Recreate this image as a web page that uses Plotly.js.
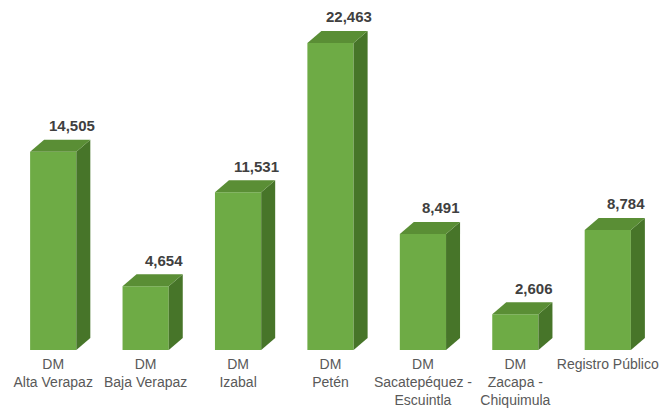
<!DOCTYPE html>
<html>
<head>
<meta charset="utf-8">
<script src="https://cdn.plot.ly/plotly-3.0.1.min.js"></script>
<style>html,body{margin:0;padding:0;background:#fff;}#chart{width:663px;height:409px;}</style>
</head>
<body>
<div id="chart"></div>
<script>
const categories = [
  "DM<br>Alta Verapaz",
  "DM<br>Baja Verapaz",
  "DM<br>Izabal",
  "DM<br>Petén",
  "DM<br>Sacatepéquez -<br>Escuintla",
  "DM<br>Zacapa -<br>Chiquimula",
  "Registro Público"
];
const values = [14505, 4654, 11531, 22463, 8491, 2606, 8784];
const valueLabels = ["14,505", "4,654", "11,531", "22,463", "8,491", "2,606", "8,784"];

const W = 663, H = 409;
const margin = {l: 7, r: 9, t: 0, b: 59};
const yMax = 25600;
const barWidth = 0.5;
const depthPx = 14, risePx = 12;

const positions = categories.map((c, i) => i);
const plotW = W - margin.l - margin.r;
const plotH = H - margin.t - margin.b;
const xUnitPx = plotW / 7;
const dx = depthPx / xUnitPx;
const dy = risePx * yMax / plotH;

const frontColor = '#6EAB45';
const topColor = '#5A8E35';
const sideColor = '#477529';

const traces = [];
positions.forEach((p, i) => {
  const v = values[i];
  const xr = p + barWidth / 2;
  const xl = p - barWidth / 2;
  traces.push({
    type: 'scatter', mode: 'lines', fill: 'toself',
    x: [xr, xr + dx, xr + dx, xr, xr],
    y: [0, dy, v + dy, v, 0],
    fillcolor: sideColor, line: {width: 0, color: sideColor},
    hoverinfo: 'skip', showlegend: false
  });
  traces.push({
    type: 'scatter', mode: 'lines', fill: 'toself',
    x: [xl, xl + dx, xr + dx, xr, xl],
    y: [v, v + dy, v + dy, v, v],
    fillcolor: topColor, line: {width: 0, color: topColor},
    hoverinfo: 'skip', showlegend: false
  });
});
traces.push({
  type: 'bar', x: positions, y: values, width: barWidth,
  marker: {color: frontColor, line: {width: 0}},
  hoverinfo: 'skip', showlegend: false
});

const annotations = positions.map((p, i) => ({
  x: p + 0.2, y: values[i], xref: 'x', yref: 'y',
  text: '<b>' + valueLabels[i] + '</b>', showarrow: false,
  yanchor: 'middle', xanchor: 'center', yshift: risePx + 14,
  font: {family: 'Liberation Sans, Arial, sans-serif', size: 15, color: '#404040'}
}));

const layout = {
  width: W, height: H, margin: margin,
  paper_bgcolor: '#fff', plot_bgcolor: '#fff',
  showlegend: false,
  xaxis: {
    range: [-0.5, 6.5], tickmode: 'array', tickvals: positions, ticktext: categories,
    showgrid: false, zeroline: false, showline: false, ticks: '',
    ticklabelstandoff: 4,
    tickfont: {family: 'Liberation Sans, Arial, sans-serif', size: 14, color: '#595959'},
    fixedrange: true
  },
  yaxis: {
    range: [0, yMax], visible: false, showgrid: false, zeroline: false, fixedrange: true
  },
  annotations: annotations
};

Plotly.newPlot('chart', traces, layout, {displayModeBar: false, staticPlot: true});
</script>
</body>
</html>
